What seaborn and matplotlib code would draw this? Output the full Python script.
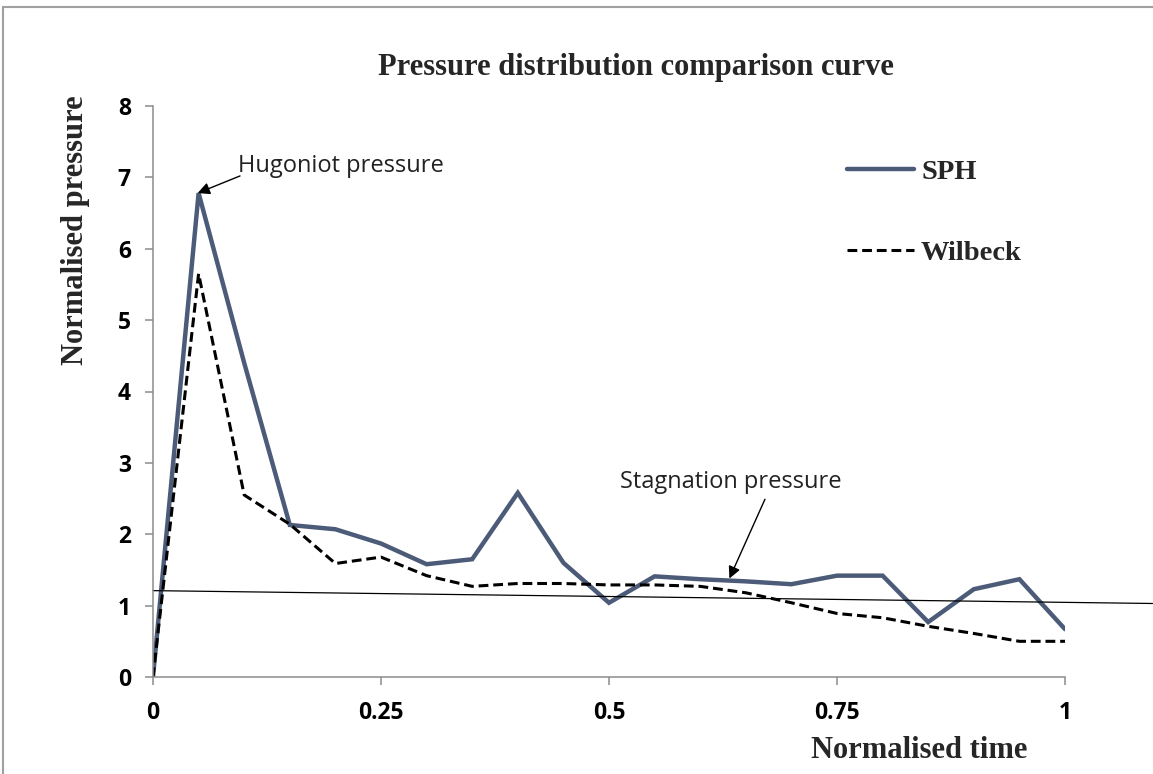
import matplotlib
matplotlib.use("Agg")
import matplotlib.pyplot as plt
import matplotlib.patches as mpatches
import seaborn as sns
import pandas as pd

# Normalised time samples
time = [0.00, 0.05, 0.10, 0.15, 0.20, 0.25, 0.30, 0.35, 0.40, 0.45, 0.50,
        0.55, 0.60, 0.65, 0.70, 0.75, 0.80, 0.85, 0.90, 0.95, 1.00]
# SPH simulation pressure
sph = [0.00, 6.78, 4.40, 2.13, 2.07, 1.87, 1.58, 1.65, 2.58, 1.60, 1.04,
       1.41, 1.37, 1.34, 1.30, 1.42, 1.42, 0.77, 1.23, 1.37, 0.67]
# Wilbeck analytical pressure
wilbeck = [0.00, 5.65, 2.55, 2.14, 1.59, 1.68, 1.42, 1.27, 1.31, 1.31, 1.29,
           1.29, 1.27, 1.18, 1.04, 0.89, 0.83, 0.71, 0.61, 0.50, 0.50]
# Stagnation pressure reference line
stag_x = [0.0, 1.096]
stag_y = [1.21, 1.03]

x_ticks = [0, 0.25, 0.5, 0.75, 1]
x_tick_labels = ["0", "0.25", "0.5", "0.75", "1"]
y_ticks = [0, 1, 2, 3, 4, 5, 6, 7, 8]

df = pd.DataFrame({"time": time, "SPH": sph, "Wilbeck": wilbeck})

sns.set_style("white")
plt.rcParams["font.family"] = ["DejaVu Sans"]

W, H = 1153, 774
fig = plt.figure(figsize=(W / 100, H / 100), dpi=100)
ax = fig.add_axes([153 / W, 1 - 677 / H, (1065 - 153) / W, (677 - 106) / H])

SPH_COLOR = "#4b5b78"
sns.lineplot(data=df, x="time", y="SPH", ax=ax, color=SPH_COLOR,
             linewidth=3.2, label="SPH", solid_joinstyle="miter")
sns.lineplot(data=df, x="time", y="Wilbeck", ax=ax, color="black",
             linewidth=2.2, linestyle=(0, (3.2, 1.6)), label="Wilbeck")
ax.plot(stag_x, stag_y, color="black", linewidth=0.9, clip_on=False)

ax.set_xlim(0, 1)
ax.set_ylim(0, 8)
ax.set_xticks(x_ticks)
ax.set_xticklabels(x_tick_labels)
ax.set_yticks(y_ticks)

for side in ["top", "right"]:
    ax.spines[side].set_visible(False)
for side in ["left", "bottom"]:
    ax.spines[side].set_color("#8c8c8c")
    ax.spines[side].set_linewidth(1.1)
ax.tick_params(axis="both", direction="out", length=6, width=1.1,
               color="#8c8c8c", labelcolor="black", labelsize=16.5)
ax.tick_params(axis="y", pad=10, left=True)
ax.tick_params(axis="x", pad=11, bottom=True)

for lab in ax.get_xticklabels() + ax.get_yticklabels():
    lab.set_fontfamily(["Open Sans", "DejaVu Sans"])
    lab.set_fontweight("bold")

serif = ["Liberation Serif", "DejaVu Serif"]
ax.set_xlabel("Normalised time", fontfamily=serif, fontweight="bold",
              fontsize=22)
ax.set_ylabel("Normalised pressure", fontfamily=serif, fontweight="bold",
              fontsize=22)
ax.xaxis.set_label_coords(0.840, -0.128)
ax.yaxis.set_label_coords(-0.0855, 0.783)
ax.xaxis.label.set_verticalalignment("center")
ax.yaxis.label.set_verticalalignment("center")

fig.text(636 / W, 1 - 68 / H, "Pressure distribution comparison curve",
         ha="center", va="center", fontfamily=serif, fontweight="bold",
         fontsize=22)

leg = ax.legend(loc="upper left", bbox_to_anchor=(847 / W, 1 - 159 / H),
                bbox_transform=fig.transFigure, frameon=False,
                handlelength=2.35, handletextpad=0.25, labelspacing=1.95,
                borderaxespad=0, borderpad=0,
                prop=dict(family=serif, weight="bold", size=20.5))

# Annotations
ann_font = dict(fontfamily=["Open Sans", "DejaVu Sans"], fontsize=17,
                color="#222222")
ax.text(0.093, 7.16, "Hugoniot pressure", ha="left", va="center", **ann_font)
ax.annotate("", xy=(0.049, 6.78), xytext=(0.0954, 7.02),
            arrowprops=dict(arrowstyle="-|>", color="black", lw=1.0,
                            mutation_scale=18, shrinkA=0, shrinkB=0))
ax.text(0.512, 2.73, "Stagnation pressure", ha="left", va="center",
        **ann_font)
ax.annotate("", xy=(0.632, 1.38), xytext=(0.671, 2.49),
            arrowprops=dict(arrowstyle="-|>", color="black", lw=1.0,
                            mutation_scale=18, shrinkA=0, shrinkB=0))

# Outer frame around the chart area
frame = mpatches.Rectangle((3 / W, -0.1), 1.2, (1 - 7 / H) + 0.1,
                           transform=fig.transFigure, fill=False,
                           edgecolor="#a0a0a0", linewidth=1.5)
fig.patches.append(frame)

fig.savefig("out.png", dpi=100)
